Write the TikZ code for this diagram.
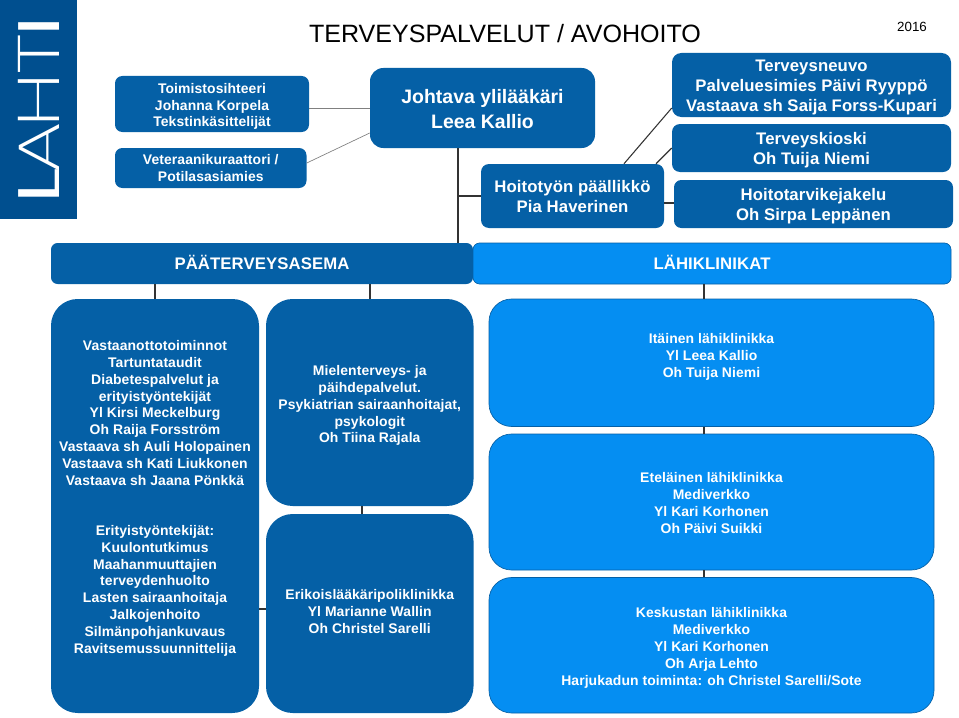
\documentclass[tikz,border=0pt]{standalone}
\usepackage{fontspec}
\setmainfont{Liberation Sans}
\newfontfamily\lbl[LetterSpace=0.6]{Liberation Sans Bold}
\newfontfamily\lblb{Liberation Sans Bold}
\newfontfamily\logofont{Poppins ExtraLight}
\newfontfamily\logoheavy{Poppins}
\definecolor{dk}{HTML}{0560A6}
\definecolor{lt}{HTML}{058EF2}
\definecolor{logoblue}{HTML}{004F8F}
\definecolor{ln}{HTML}{333333}
\tikzset{x=0.75pt,y=-0.75pt,
 bx/.style={rounded corners=#1,inner sep=0pt,text=white,anchor=center},
 dkb/.style={bx=#1,fill=dk},
 ltb/.style={bx=#1,fill=lt,draw=dk,line width=0.5pt},
 conn/.style={draw=ln,line width=1.3pt},
 fine conn/.style={draw=ln,line width=0.8pt},
 thin conn/.style={draw=gray,line width=0.5pt},
}
% name, x1, y1, x2, y2, style, content
\newcommand{\B}[7]{\node[#6,minimum width=#4*0.75pt-#2*0.75pt,minimum height=#5*0.75pt-#3*0.75pt] (#1) at ({(#2+#4)/2},{(#3+#5)/2}) {#7};}
\newcommand{\Tf}[4]{\smash{\raisebox{#1}{\makebox[0pt]{\fontsize{#2}{#3}\lbl\begin{tabular}[c]{@{}c@{}}#4\end{tabular}}}}}
\newcommand{\Tb}[4]{\smash{\raisebox{#1}{\makebox[0pt]{\fontsize{#2}{#3}\lblb\begin{tabular}[c]{@{}c@{}}#4\end{tabular}}}}}
\renewcommand{\arraystretch}{1}
\setlength{\tabcolsep}{0pt}
\begin{document}
\begin{tikzpicture}
\useasboundingbox (0,0) rectangle (959,717);
\fill[white] (0,0) rectangle (959,717);
\node[fill=logoblue,minimum width=57.75pt,minimum height=164.6pt,inner sep=0pt,text=white,font=\fontsize{44}{44}\selectfont] (logo) at (38.5,109.75) {\rotatebox{90}{\scalebox{1.4}[1]{{\logoheavy L}\kern-3pt{\logofont A}\kern-3pt{\logofont H}\kern-1pt{\logofont T}\kern-1pt{\logoheavy I}}}};
\node[inner sep=0pt,font=\fontsize{18.8}{22}\selectfont] (title) at (505,34) {TERVEYSPALVELUT / AVOHOITO};
\node[inner sep=0pt,font=\fontsize{10}{12}\selectfont] (year) at (912,27) {2016};
\B{toim}{115}{76}{309}{132}{dkb=5.5pt}{\Tf{-4.5pt}{10.45}{12.64}{Toimistosihteeri\\Johanna Korpela\\Tekstinkäsittelijät}}
\B{vet}{115}{148}{306.5}{188}{dkb=5.5pt}{\Tf{-3.75pt}{10.45}{12.64}{Veteraanikuraattori /\\Potilasasiamies}}
\B{joh}{370}{68}{595}{148}{dkb=10pt}{\Tb{-6pt}{14.6}{18}{Johtava ylilääkäri\\Leea Kallio}}
\B{hoi}{481}{164}{664}{228}{dkb=6pt}{\Tf{-4.75pt}{12.55}{15.2}{Hoitotyön päällikkö\\Pia Haverinen}}
\B{neu}{672}{53}{951}{117}{dkb=7pt}{\Tf{-4.75pt}{12.55}{15.2}{Terveysneuvo\\Palveluesimies Päivi Ryyppö\\Vastaava sh Saija Forss-Kupari}}
\B{kio}{672}{124}{951}{172}{dkb=6pt}{\Tf{-5pt}{12.55}{15.2}{Terveyskioski\\Oh Tuija Niemi}}
\B{tarv}{674}{180}{953}{228}{dkb=5.5pt}{\Tf{-4.75pt}{12.55}{15.2}{Hoitotarvikejakelu\\Oh Sirpa Leppänen}}
\B{pta}{51}{243}{473}{284}{dkb=5pt}{\Tf{-4.75pt}{12.55}{15}{PÄÄTERVEYSASEMA}}
\B{lah}{473}{243}{951}{284}{ltb=5pt}{\Tf{-4.75pt}{12.55}{15}{LÄHIKLINIKAT}}
\B{vas}{51}{299}{259}{713}{dkb=20pt}{\Tf{3.1pt}{10.45}{12.6}{Vastaanottotoiminnot\\Tartuntataudit\\Diabetespalvelut ja\\erityistyöntekijät\\Yl Kirsi Meckelburg\\Oh Raija Forsström\\Vastaava sh Auli Holopainen\\Vastaava sh Kati Liukkonen\\Vastaava sh Jaana Pönkkä\\[12.6pt]\\Erityistyöntekijät:\\Kuulontutkimus\\Maahanmuuttajien\\terveydenhuolto\\Lasten sairaanhoitaja\\Jalkojenhoito\\Silmänpohjankuvaus\\Ravitsemussuunnittelija}}
\B{mie}{266}{299}{473.5}{506}{dkb=20pt}{\Tf{-5pt}{10.45}{12.64}{Mielenterveys- ja\\päihdepalvelut.\\Psykiatrian sairaanhoitajat,\\psykologit\\Oh Tiina Rajala}}
\B{eri}{266}{514}{473.5}{713}{dkb=20pt}{\Tf{-2.25pt}{10.45}{12.64}{Erikoislääkäripoliklinikka\\Yl Marianne Wallin\\Oh Christel Sarelli}}
\B{ita}{489}{299}{934}{426.5}{ltb=17pt}{\Tf{1.5pt}{10.45}{12.64}{Itäinen lähiklinikka\\Yl Leea Kallio\\Oh Tuija Niemi}}
\B{ete}{489}{434}{934}{570}{ltb=17pt}{\Tf{-4.5pt}{10.45}{12.64}{Eteläinen lähiklinikka\\Mediverkko\\Yl Kari Korhonen\\Oh Päivi Suikki}}
\B{kes}{489}{577.5}{934}{713}{ltb=17pt}{\Tf{-4.5pt}{10.45}{12.64}{Keskustan lähiklinikka\\Mediverkko\\Yl Kari Korhonen\\Oh Arja Lehto\\Harjukadun toiminta: oh Christel Sarelli/Sote}}
% connectors
\draw[thin conn] (toim.east |- 0,108) -- (joh.west |- 0,108);
\draw[thin conn] (vet.east |- 0,163) -- (joh.west |- 0,133);
\draw[conn] (458,0 |- joh.south) -- (458,0 |- pta.north);
\draw[conn] (458,196) -- (hoi.west |- 0,196);
\draw[fine conn] (624,0 |- hoi.north) -- (neu.west |- 0,108);
\draw[fine conn] (656,0 |- hoi.north) -- (kio.west |- 0,148);
\draw[fine conn] (hoi.east |- 0,203) -- (tarv.west |- 0,203);
\draw[conn] (155,0 |- pta.south) -- (155,0 |- vas.north);
\draw[conn] (370,0 |- pta.south) -- (370,0 |- mie.north);
\draw[conn] (704,0 |- lah.south) -- (704,0 |- ita.north);
\draw[conn] (362,0 |- mie.south) -- (362,0 |- eri.north);
\draw[conn] (vas.east |- 0,609) -- (eri.west |- 0,609);
\draw[conn] (704,0 |- ita.south) -- (704,0 |- ete.north);
\draw[conn] (704,0 |- ete.south) -- (704,0 |- kes.north);
\end{tikzpicture}
\end{document}
